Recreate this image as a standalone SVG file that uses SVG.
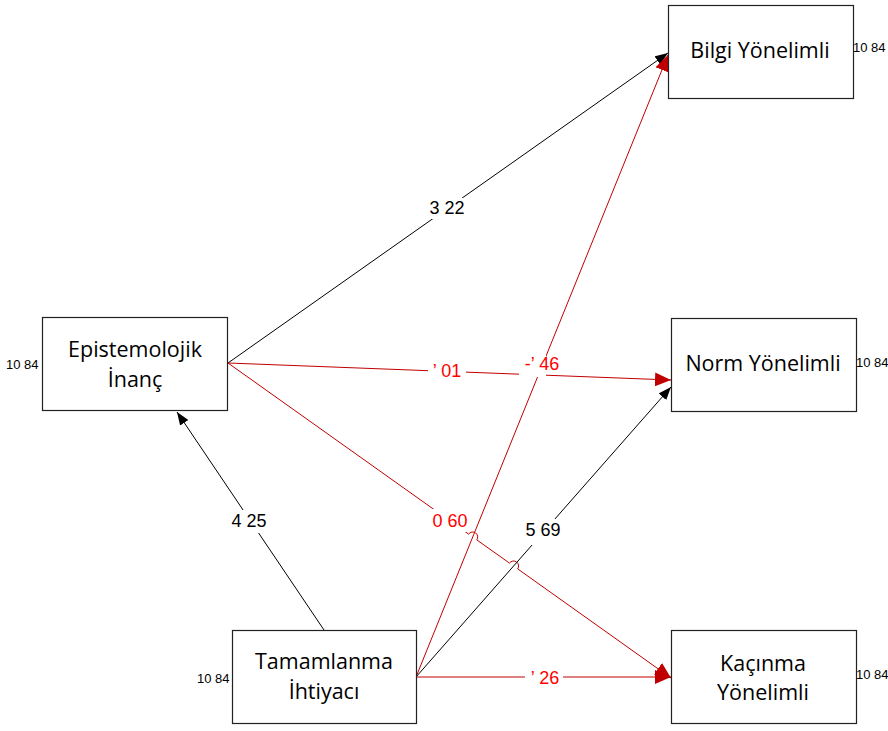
<svg xmlns="http://www.w3.org/2000/svg" width="888" height="731" viewBox="0 0 888 731">
<style>
.box{fill:#fff;stroke:#222;stroke-width:1.2}
.nt{font-family:"Open Sans","Liberation Sans",sans-serif;font-size:21.5px;fill:#000;text-anchor:middle}
.var{font-family:"Liberation Sans",Arial,sans-serif;font-size:13px;fill:#000}
.blk{fill:none;stroke:#000;stroke-width:1}
.red{fill:none;stroke:#c00000;stroke-width:1}
.lb{font-family:"Liberation Sans",Arial,sans-serif;font-size:18px;text-anchor:middle}
.lbk{fill:#000}
.lrd{fill:#ff0000}
.bg{fill:#fff}
</style>
<defs>
<marker id="ab" markerUnits="userSpaceOnUse" markerWidth="13" markerHeight="10" refX="13" refY="5" orient="auto"><path d="M0,0 L13,5 L0,10 z" fill="#000"/></marker>
<marker id="ar" markerUnits="userSpaceOnUse" markerWidth="16" markerHeight="14" refX="16" refY="7" orient="auto"><path d="M0,0 L16,7 L0,14 z" fill="#c00000"/></marker>
</defs>
<g id="connectors">
<path class="blk" d="M228,363 L668,53" marker-end="url(#ab)"/>
<path class="red" d="M228,363 L671,380" marker-end="url(#ar)"/>
<path class="red" d="M228,363 L468.6,534.1 A5,5 0 0 1 476.8,539.9 L509.5,563.1 A5,5 0 0 1 517.7,568.9 L671,678" marker-end="url(#ar)"/>
<path class="blk" d="M324,630 L177,412" marker-end="url(#ab)"/>
<path class="red" d="M416,677 L668,55" marker-end="url(#ar)"/>
<path class="blk" d="M416,677 L671,387" marker-end="url(#ab)"/>
<path class="red" d="M416,677 L671,677" marker-end="url(#ar)"/>
</g>
<g id="labels">
<rect class="bg" x="428" y="198" width="39" height="21"/>
<text class="lb lbk" x="447" y="214">3 22</text>
<rect class="bg" x="428" y="362" width="38" height="16"/>
<text class="lb lrd" x="447" y="377">’ 01</text>
<rect class="bg" x="519" y="352" width="27" height="25"/>
<text class="lb lrd" x="542" y="370">-’ 46</text>
<rect class="bg" x="430" y="509" width="37" height="23"/>
<text class="lb lrd" x="450" y="527">0 60</text>
<rect class="bg" x="229" y="510" width="40" height="23"/>
<text class="lb lbk" x="249" y="527">4 25</text>
<rect class="bg" x="522" y="519" width="41" height="26"/>
<text class="lb lbk" x="543" y="536">5 69</text>
<rect class="bg" x="525" y="669" width="38" height="17"/>
<text class="lb lrd" x="545" y="684">’ 26</text>
</g>
<g id="bilgi">
<rect class="box" x="668.5" y="5.5" width="185" height="93"/>
<text class="nt" x="760" y="58">Bilgi Yönelimli</text>
<text class="var" x="853" y="52">10 84</text>
</g>
<g id="norm">
<rect class="box" x="671.5" y="318.5" width="185" height="93"/>
<text class="nt" x="763" y="371">Norm Yönelimli</text>
<text class="var" x="856" y="367">10 84</text>
</g>
<g id="kacinma">
<rect class="box" x="671.5" y="630.5" width="185" height="93"/>
<text class="nt" x="763" y="671">Kaçınma</text>
<text class="nt" x="763" y="700">Yönelimli</text>
<text class="var" x="856" y="679">10 84</text>
</g>
<g id="epistemolojik">
<rect class="box" x="42.5" y="317.5" width="185" height="93"/>
<text class="nt" x="135" y="357">Epistemolojik</text>
<text class="nt" x="135" y="387">İnanç</text>
<text class="var" x="6" y="369">10 84</text>
</g>
<g id="tamamlanma">
<rect class="box" x="232.5" y="630.5" width="184" height="93"/>
<text class="nt" x="324" y="669">Tamamlanma</text>
<text class="nt" x="324" y="699">İhtiyacı</text>
<text class="var" x="197" y="683">10 84</text>
</g>
</svg>
